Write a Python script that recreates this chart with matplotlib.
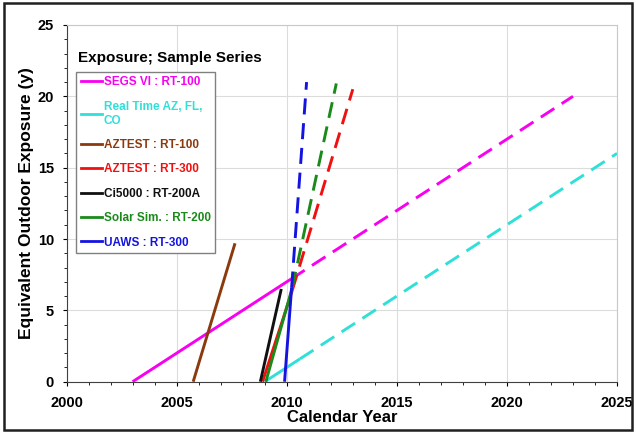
import matplotlib

matplotlib.use("Agg")
import matplotlib.pyplot as plt
from matplotlib.lines import Line2D
from matplotlib.patches import Rectangle
from matplotlib.ticker import MultipleLocator

plt.rcParams["font.family"] = ["Liberation Sans", "DejaVu Sans"]
plt.rcParams["font.weight"] = "bold"

# series: label, colour, solid segment (measured), dashed segment (projection)
labels = [
    "SEGS VI : RT-100",
    "Real Time AZ, FL,\nCO",
    "AZTEST : RT-100",
    "AZTEST : RT-300",
    "Ci5000 : RT-200A",
    "Solar Sim. : RT-200",
    "UAWS : RT-300",
]
colors = ["#F800F0", "#30E0D8", "#8B3A0E", "#F01010", "#101010", "#1A8A1A", "#1414E0"]

solid_x = [
    [2003.0, 2010.2],
    [2009.0, 2010.6],
    [2005.75, 2007.65],
    [2008.9, 2010.25],
    [2008.8, 2009.75],
    [2009.05, 2010.25],
    [2009.9, 2010.22],
]
solid_y = [
    [0.0, 7.2],
    [0.0, 1.6],
    [0.0, 9.7],
    [0.0, 6.4],
    [0.0, 6.5],
    [0.0, 6.6],
    [0.0, 6.6],
]
dash_x = [
    [2010.2, 2023.0],
    [2010.6, 2025.0],
    None,
    [2010.25, 2013.0],
    None,
    [2010.25, 2012.25],
    [2010.22, 2010.9],
]
dash_y = [
    [7.2, 20.0],
    [1.6, 16.0],
    None,
    [6.4, 20.5],
    None,
    [6.6, 20.9],
    [6.6, 21.0],
]

fig = plt.figure(figsize=(6.36, 4.33), dpi=100)
ax = fig.add_axes([0.1047, 0.1185, 0.8655, 0.8238])

for i in range(len(labels)):
    ax.plot(solid_x[i], solid_y[i], color=colors[i], lw=2.1, solid_capstyle="butt", zorder=3)
    if dash_x[i] is not None:
        ax.plot(dash_x[i], dash_y[i], color=colors[i], lw=2.1, dashes=(5.5, 3), zorder=3)

ax.set_xlim(2000, 2025)
ax.set_ylim(0, 25)
ax.xaxis.set_major_locator(MultipleLocator(5))
ax.xaxis.set_minor_locator(MultipleLocator(1))
ax.yaxis.set_major_locator(MultipleLocator(5))
ax.yaxis.set_minor_locator(MultipleLocator(1))
ax.tick_params(which="major", direction="out", length=3, width=0.8, labelsize=10.5)
ax.tick_params(axis="x", which="major", pad=7)
ax.tick_params(axis="y", which="major", pad=6)
ax.tick_params(which="minor", direction="out", length=2.5, width=0.6)
for lab in ax.get_xticklabels() + ax.get_yticklabels():
    lab.set_fontweight("bold")
ax.grid(which="major", color="#DCDCDC", lw=0.8, zorder=0)
ax.set_axisbelow(True)
for s in ("top", "right"):
    ax.spines[s].set_color("#C8C8C8")
for s in ("left", "bottom"):
    ax.spines[s].set_color("#404040")

ax.set_xlabel("Calendar Year", fontsize=12, fontweight="bold", labelpad=0)
ax.set_ylabel("Equivalent Outdoor Exposure (y)", fontsize=12.5, fontweight="bold", labelpad=3)

ax.text(0.021, 0.907, "Exposure; Sample Series", transform=ax.transAxes,
        fontsize=11, fontweight="bold", va="center", ha="left")

handles = [Line2D([], [], color=c, lw=2) for c in colors]
leg = ax.legend(handles, labels, loc="upper left", bbox_to_anchor=(0.018, 0.869),
                bbox_transform=ax.transAxes, borderaxespad=0,
                labelcolor=colors, handlelength=1.8, handletextpad=0.1,
                labelspacing=1.05, borderpad=0.4, fancybox=False, framealpha=1,
                edgecolor="#808080", prop={"weight": "bold", "size": 8.5})
leg.get_frame().set_linewidth(1.0)

fig.patches.append(Rectangle((0.006, 0.008), 0.988, 0.986, transform=fig.transFigure,
                             fill=False, ec="#202020", lw=1.8))

fig.savefig("out.png", dpi=100)
